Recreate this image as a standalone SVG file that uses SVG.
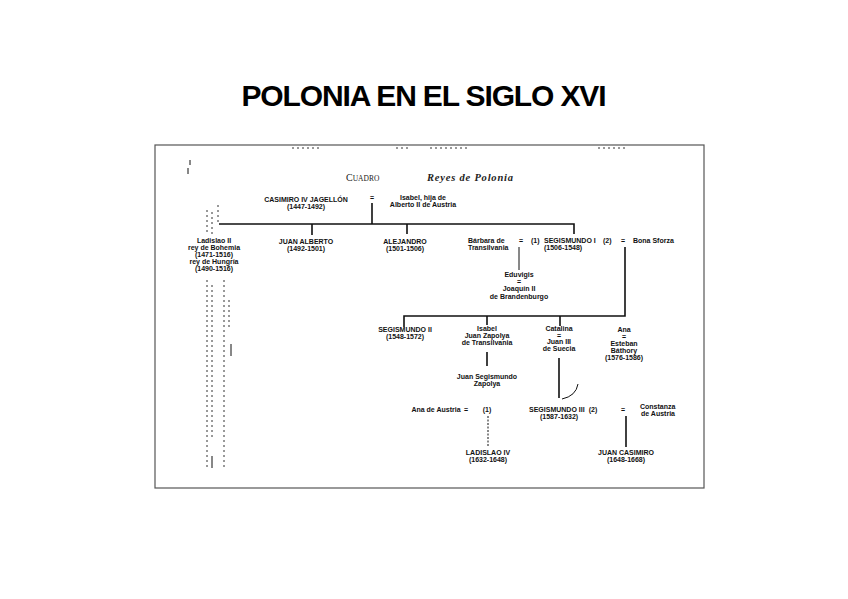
<svg xmlns="http://www.w3.org/2000/svg" width="848" height="599" viewBox="0 0 848 599">
<style>
.t{font-family:"Liberation Sans",Arial,sans-serif;font-weight:bold;font-size:7px;fill:#111;text-anchor:middle}
.s{text-anchor:start}
.ln{stroke:#111;stroke-width:1.6;fill:none}
.th{stroke:#111;stroke-width:1;fill:none}
.nz{stroke:#333;stroke-width:1;fill:none;stroke-dasharray:2 3}
</style>
<rect width="848" height="599" fill="#fff"/>
<text x="424" y="106" font-family="Liberation Sans,Arial,sans-serif" font-weight="bold" font-size="30" text-anchor="middle" textLength="365" fill="#000">POLONIA EN EL SIGLO XVI</text>
<rect x="155" y="145" width="549" height="343" fill="none" stroke="#555" stroke-width="1.2"/>
<g id="noise">
<path class="nz" d="M292,148h30M396,148h14M430,148h40M598,148h30"/>
<path class="nz" d="M207,210V234M212,212V234M218,205V225M207,280V470M212,285V440M224,280V470M229,300V330"/>
<path class="th" d="M190,160v5M188,168v6M231,344v12M212,456v12"/>
</g>
<g id="header">
<text x="346" y="181" font-family="Liberation Serif,serif" font-size="10" fill="#222">C<tspan font-size="7.5">UADRO</tspan></text>
<text x="427" y="181" font-family="Liberation Serif,serif" font-style="italic" font-weight="bold" font-size="10.5" fill="#222" textLength="86">Reyes de Polonia</text>
</g>
<g id="connectors">
<path class="ln" d="M372,203V224M219,224H574V234M312,224V235M407,224V234"/>
<path class="th" d="M519,247V270"/>
<path class="ln" d="M625,247V316H404V327M487,316V325M560,316V326"/>
<path class="ln" d="M487,352V366M559,358V398"/>
<path class="th" d="M578,384Q576,396 562,399"/>
<path class="th" stroke-dasharray="2 1.5" d="M488,416V446"/>
<path class="ln" d="M626,416V447"/>
</g>
<g id="casimiro">
<text class="t" x="306" y="202">CASIMIRO IV JAGELLÓN</text>
<text class="t" x="306" y="209">(1447-1492)</text>
<text class="t" x="372" y="200">=</text>
<text class="t" x="423" y="200">Isabel, hija de</text>
<text class="t" x="423" y="207">Alberto II de Austria</text>
</g>
<g id="ladislao">
<text class="t" x="214" y="243">Ladislao II</text>
<text class="t" x="214" y="250">rey de Bohemia</text>
<text class="t" x="214" y="257">(1471-1516)</text>
<text class="t" x="214" y="264">rey de Hungría</text>
<text class="t" x="214" y="271">(1490-1516)</text>
</g>
<g id="juanalberto">
<text class="t" x="306" y="244">JUAN ALBERTO</text>
<text class="t" x="306" y="251">(1492-1501)</text>
</g>
<g id="alejandro">
<text class="t" x="405" y="244">ALEJANDRO</text>
<text class="t" x="405" y="251">(1501-1506)</text>
</g>
<g id="segismundo1">
<text class="t s" x="468" y="243">Bárbara de</text>
<text class="t s" x="468" y="250">Transilvania</text>
<text class="t" x="521" y="243">=</text>
<text class="t s" x="531" y="243">(1)</text>
<text class="t s" x="544" y="243">SEGISMUNDO I</text>
<text class="t s" x="544" y="250">(1506-1548)</text>
<text class="t s" x="603" y="243">(2)</text>
<text class="t" x="623" y="243">=</text>
<text class="t s" x="633" y="243">Bona Sforza</text>
</g>
<g id="eduvigis">
<text class="t" x="519" y="277">Eduvigis</text>
<text class="t" x="519" y="284">=</text>
<text class="t" x="519" y="291">Joaquín II</text>
<text class="t" x="519" y="299">de Brandenburgo</text>
</g>
<g id="segismundo2">
<text class="t" x="405" y="332">SEGISMUNDO II</text>
<text class="t" x="405" y="339">(1548-1572)</text>
</g>
<g id="isabel">
<text class="t" x="487" y="331">Isabel</text>
<text class="t" x="487" y="338">Juan Zapolya</text>
<text class="t" x="487" y="345">de Transilvania</text>
</g>
<g id="catalina">
<text class="t" x="559" y="331">Catalina</text>
<text class="t" x="559" y="338">=</text>
<text class="t" x="559" y="344">Juan III</text>
<text class="t" x="559" y="351">de Suecia</text>
</g>
<g id="ana">
<text class="t" x="624" y="332">Ana</text>
<text class="t" x="624" y="339">=</text>
<text class="t" x="624" y="346">Esteban</text>
<text class="t" x="624" y="353">Báthory</text>
<text class="t" x="624" y="360">(1576-1586)</text>
</g>
<g id="juansegismundo">
<text class="t" x="487" y="379">Juan Segismundo</text>
<text class="t" x="487" y="386">Zapolya</text>
</g>
<g id="segismundo3">
<text class="t" x="436" y="412">Ana de Austria</text>
<text class="t" x="466" y="412">=</text>
<text class="t" x="487" y="412">(1)</text>
<text class="t s" x="529" y="412">SEGISMUNDO III</text>
<text class="t s" x="540" y="419">(1587-1632)</text>
<text class="t" x="593" y="412">(2)</text>
<text class="t" x="623" y="412">=</text>
<text class="t s" x="640" y="409">Constanza</text>
<text class="t s" x="641" y="416">de Austria</text>
</g>
<g id="ladislao4">
<text class="t" x="488" y="455">LADISLAO IV</text>
<text class="t" x="488" y="462">(1632-1648)</text>
</g>
<g id="juancasimiro">
<text class="t" x="626" y="455">JUAN CASIMIRO</text>
<text class="t" x="626" y="462">(1648-1668)</text>
</g>
</svg>
